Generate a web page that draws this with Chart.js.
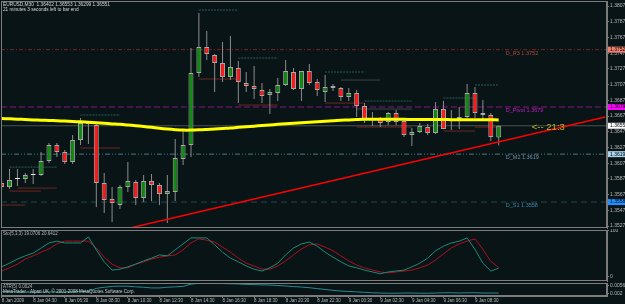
<!DOCTYPE html>
<html>
<head>
<meta charset="utf-8">
<script src="https://cdn.jsdelivr.net/npm/chart.js@4.4.1/dist/chart.umd.min.js"></script>
<style>
  html, body { margin: 0; padding: 0; background: #091416; }
  #wrap { position: relative; width: 625px; height: 304px; overflow: hidden; background: #091416; }
  #wrap canvas { position: absolute; left: 0; }
</style>
</head>
<body>
<div id="wrap">
  <canvas id="main" width="625" height="229" style="top:0px"></canvas>
  <canvas id="sto" width="625" height="53" style="top:229px"></canvas>
  <canvas id="atr" width="625" height="22" style="top:282px"></canvas>
</div>
<script>
// EURUSD M30 candles, 8 Jan 02:30 .. 9 Jan 09:30
const opens  = [1.35822,1.35771,1.35873,1.35873,1.35924,1.35924,1.36102,1.36305,1.36216,1.36089,1.36369,1.36586,1.36560,1.35822,1.35618,1.35542,
                1.35771,1.35835,1.35631,1.35847,1.35796,1.35682,1.35707,1.36127,1.36305,1.37222,1.37553,1.37451,1.37349,1.37171,1.37286,1.37095,
                1.37056,1.37006,1.36942,1.36967,1.37069,1.37235,1.37018,1.37247,1.37107,1.36980,1.37056,1.37031,1.36916,1.36967,1.36802,1.36649,
                1.36637,1.36598,1.36713,1.36611,1.36433,1.36471,1.36535,1.36458,1.36764,1.36611,1.36637,1.36662,1.36967,1.36713,1.36688,1.36402];
const highs  = [1.35860,1.36000,1.36000,1.35949,1.36000,1.36216,1.36331,1.36331,1.36243,1.36433,1.36649,1.36586,1.36586,1.35949,1.35771,1.35796,
                1.36089,1.35860,1.35924,1.35936,1.35822,1.35924,1.36382,1.36509,1.37540,1.37986,1.37756,1.37464,1.37616,1.37693,1.37375,1.37235,
                1.37311,1.37095,1.37018,1.37158,1.37387,1.37286,1.37247,1.37336,1.37146,1.37196,1.37082,1.37044,1.37031,1.37006,1.36840,1.36726,
                1.36662,1.36726,1.36751,1.36649,1.36522,1.36586,1.36573,1.36853,1.36865,1.36751,1.36789,1.37082,1.37044,1.36878,1.36713,1.36553];
const lows   = [1.35733,1.35745,1.35784,1.35822,1.35809,1.35911,1.36076,1.36153,1.36064,1.36064,1.36305,1.36318,1.35516,1.35440,1.35325,1.35491,
                1.35707,1.35542,1.35580,1.35593,1.35542,1.35313,1.35593,1.36051,1.36153,1.37171,1.37387,1.36980,1.37107,1.37133,1.36840,1.36980,
                1.36891,1.36840,1.36701,1.36865,1.37056,1.37006,1.36865,1.37069,1.36929,1.36853,1.36993,1.36865,1.36865,1.36662,1.36586,1.36548,
                1.36535,1.36560,1.36560,1.36407,1.36293,1.36458,1.36433,1.36446,1.36509,1.36497,1.36509,1.36649,1.36649,1.36637,1.36356,1.36299];
const closes = [1.35771,1.35860,1.35873,1.35924,1.35924,1.36102,1.36305,1.36216,1.36089,1.36369,1.36586,1.36573,1.35822,1.35605,1.35567,1.35771,
                1.35847,1.35631,1.35847,1.35796,1.35682,1.35720,1.36140,1.36305,1.37222,1.37553,1.37464,1.37349,1.37171,1.37298,1.37107,1.37056,
                1.37018,1.36929,1.36980,1.37069,1.37247,1.37018,1.37247,1.37095,1.37006,1.37044,1.37031,1.36916,1.36967,1.36802,1.36637,1.36624,
                1.36586,1.36713,1.36598,1.36433,1.36471,1.36548,1.36458,1.36764,1.36509,1.36637,1.36662,1.36967,1.36713,1.36688,1.36407,1.36551];

// yellow moving average, one value per bar
const maValues = [1.36643,1.36639,1.36635,1.36631,1.36626,1.36622,1.36619,1.36615,1.36611,1.36606,1.36601,1.36595,1.36588,1.36582,1.36575,1.36569,
                  1.36561,1.36552,1.36542,1.36531,1.36519,1.36509,1.36501,1.36496,1.36496,1.36499,1.36504,1.36510,1.36517,1.36523,1.36531,1.36538,
                  1.36546,1.36554,1.36561,1.36569,1.36577,1.36584,1.36591,1.36597,1.36603,1.36610,1.36616,1.36621,1.36626,1.36630,1.36633,1.36634,
                  1.36635,1.36634,1.36633,1.36633,1.36631,1.36631,1.36630,1.36630,1.36630,1.36629,1.36629,1.36629,1.36627,1.36627,1.36627,1.36626];

// Sto(5,3,3)
const stochMain   = [22,30,39,46,52,63,74,78,74,74,74,87,59,33,15,17,22,28,35,41,48,46,59,72,85,85,85,70,54,41,33,24,
                     17,13,20,30,48,63,72,76,67,54,43,33,24,20,15,11,7,11,13,15,22,30,41,57,67,74,78,85,60,30,13,19.0706];
const stochSignal = [13,20,28,39,46,54,61,72,78,78,78,78,63,43,28,20,20,28,33,39,43,46,48,59,74,83,80,76,65,54,41,30,
                     24,17,17,24,35,48,61,70,72,65,57,46,35,26,20,15,11,9,11,13,15,20,26,37,50,63,72,78,83,60,34,20.6412];

// ATR(5)
const atrValues = [0.0030,0.0030,0.0029,0.0028,0.0027,0.0028,0.0029,0.0029,0.0028,0.0030,0.0032,0.0031,0.0045,0.0050,0.0054,0.0055,
                   0.0055,0.0052,0.0050,0.0047,0.0047,0.0050,0.0052,0.0054,0.0064,0.0068,0.0068,0.0068,0.0067,0.0066,0.0065,0.0063,
                   0.0062,0.0061,0.0060,0.0058,0.0056,0.0053,0.0051,0.0048,0.0044,0.0040,0.0036,0.0033,0.0031,0.0029,0.0027,0.0025,
                   0.0024,0.0023,0.0023,0.0024,0.0024,0.0023,0.0023,0.0024,0.0025,0.0025,0.0024,0.0025,0.0025,0.0024,0.0024,0.0024];

const priceTicks = [1.35275,1.35475,1.35675,1.35875,1.36075,1.36275,1.36475,1.36675,1.36875,1.37075,1.37275,1.37475,1.37675,1.37875,1.38075];
const stochTicks = [0, 100];
const atrTicks = [0.0056, 0.002];
const timeBars = [0,4,8,12,16,20,24,28,32,36,40,44,48,52,56,60];
const timeLabels = ['8 Jan 2009','8 Jan 04:30','8 Jan 06:30','8 Jan 08:30','8 Jan 10:30','8 Jan 12:30','8 Jan 14:30','8 Jan 16:30',
                    '8 Jan 18:30','8 Jan 20:30','8 Jan 22:30','9 Jan 00:30','9 Jan 02:30','9 Jan 04:30','9 Jan 06:30','9 Jan 08:30'];

// daily pivot levels
const levelNames  = ['D_R3', 'D_Pivot', 'D_M2', 'D_S1'];
const levelPrices = [1.3752, 1.3679, 1.3619, 1.3558];

// red trend line anchors (bar index, price)
const trendBars   = [16.27, 76.5];
const trendPrices = [1.35250, 1.36662];

// short session high / low segments
const sessStart = [0, 1, 1, 2, 10, 10, 25, 25, 30, 30, 41, 41, 43, 45, 45, 46, 56, 56, 60, 60];
const sessEnd   = [3, 5, 7, 7, 15, 15, 30, 30, 35, 35, 46, 46, 48, 52, 52, 52, 60, 60, 63, 63];
const sessPrice = [1.35542,1.35720,1.36025,1.35758,1.36688,1.36268,1.38024,1.37146,1.37413,1.36815,1.37235,1.36840,1.37133,1.36764,1.36535,1.36866,1.36904,1.36484,1.37070,1.36535];
const sessKind  = ['lo','lo','hi','lo','hi','lo','hi','lo','hi','lo','hi','lo','mid','mid','lo','hi','hi','lo','hi','lo'];

const arrowText = '<-- 21:3';
const arrowBar = 67.2;
const arrowPrice = 1.36535;

// ---------- styling ----------
const X_MIN = -0.08, X_MAX = 76.73;
const AXIS_W = 18;
const FRAME = '#7c7c7c';
const TEXT = '#b8b8b8';
const UP = '#128a12', DOWN = '#ff1a1a', DOJI = '#e8e8e8', OUTLINE = '#a8a8a8', WICK = '#8c8c8c';
const levelLineColors = ['#7a2020', '#8a108a', '#4a7888', '#24484e'];
const levelDash = [[4, 2, 1, 2], [6, 3], [5, 2, 1, 2, 1, 2], [6, 4]];
const levelTextColors = ['#b04a3a', '#c020c0', '#7090a8', '#3a8aa8'];
const levelBoxColors = ['#f08070', '#ff00ff', '#a8d4f0', '#1e90ff'];
const sessColors = { hi: '#2c5c5c', lo: '#6e2820', mid: '#3a4448' };

Chart.defaults.font.family = '"Liberation Sans", Arial, sans-serif';

const bars = opens.map((_, i) => i);
const lastClose = closes[closes.length - 1];
const candleColor = i => closes[i] > opens[i] ? UP : (closes[i] < opens[i] ? DOWN : DOJI);

function noPad(s) { s.paddingTop = 0; s.paddingBottom = 0; s.paddingLeft = 0; s.paddingRight = 0; }

function text(ctx, s, x, y, color, size, align) {
  ctx.save();
  ctx.font = size + 'px "Liberation Sans", Arial, sans-serif';
  ctx.fillStyle = color;
  ctx.textAlign = align || 'left';
  ctx.textBaseline = 'middle';
  ctx.fillText(s, x, y);
  ctx.restore();
}

function frame(chart) {
  const a = chart.chartArea, ctx = chart.ctx;
  ctx.save();
  ctx.strokeStyle = FRAME;
  ctx.lineWidth = 1;
  ctx.strokeRect(a.left + 0.5, a.top + 0.5, a.right - a.left - 1, a.bottom - a.top - 1);
  ctx.restore();
}

const xHidden = { type: 'linear', min: X_MIN, max: X_MAX, offset: false, display: false };

function yAxis(min, max, ticks, fmt) {
  return {
    type: 'linear', position: 'right', min: min, max: max,
    afterBuildTicks: s => { s.ticks = ticks.map(v => ({ value: v })); },
    afterFit: s => { s.width = AXIS_W; noPad(s); },
    grid: { drawOnChartArea: false, color: FRAME, tickLength: 2 },
    border: { color: FRAME },
    ticks: { color: TEXT, font: { size: 5 }, padding: 1, callback: fmt }
  };
}

const base = {
  responsive: false, animation: false, devicePixelRatio: 1, events: [],
  plugins: { legend: { display: false }, tooltip: { enabled: false } }
};

function segPoints(kind) {
  const pts = [];
  sessKind.forEach((k, j) => {
    if (k !== kind) return;
    pts.push({ x: sessStart[j], y: sessPrice[j] }, { x: sessEnd[j], y: sessPrice[j] }, { x: sessEnd[j] + 0.01, y: null });
  });
  return pts;
}

// ---------- main price panel ----------
const mainOverlay = {
  id: 'mainOverlay',
  afterDraw(chart) {
    const ctx = chart.ctx, a = chart.chartArea;
    const xs = chart.scales.x, ys = chart.scales.y;
    frame(chart);
    text(ctx, 'EURUSD,M30  1.36402 1.36553 1.36299 1.36551', a.left + 2, a.top + 3.5, '#d8d8d8', 4.8);
    text(ctx, '21 minutes 3 seconds left to bar end', a.left + 2, a.top + 9, '#d8d8d8', 4.7);
    const lx = xs.getPixelForValue(63.9);
    levelNames.forEach((n, j) => {
      text(ctx, n + ' ' + levelPrices[j].toFixed(4), lx, ys.getPixelForValue(levelPrices[j]) + 3.5, levelTextColors[j], 5.5);
    });
    text(ctx, arrowText, xs.getPixelForValue(arrowBar), ys.getPixelForValue(arrowPrice), '#c0b428', 9.5);
    const boxes = levelPrices.map((p, j) => [p, levelBoxColors[j]]).concat([[lastClose, '#ffffff']]);
    boxes.forEach(([p, c]) => {
      const y = ys.getPixelForValue(p);
      ctx.fillStyle = c;
      ctx.fillRect(a.right + 1, y - 3, 625 - a.right - 1, 6);
      text(ctx, p.toFixed(5), a.right + 3, y, '#000000', 5);
    });
  }
};

new Chart(document.getElementById('main'), {
  type: 'bar',
  data: {
    datasets: [
      { type: 'line', data: trendBars.map((b, i) => ({ x: b, y: trendPrices[i] })), borderColor: '#ff0000', borderWidth: 1.5, pointRadius: 0, order: 0 },
      { type: 'line', data: bars.map(i => ({ x: i, y: maValues[i] })), borderColor: '#ffff00', borderWidth: 3, pointRadius: 0, tension: 0.4, order: 1 },
      { type: 'bar', data: bars.map(i => ({ x: i, y: [opens[i], closes[i]] })), grouped: false, barThickness: 5, minBarLength: 1,
        backgroundColor: c => candleColor(c.dataIndex), borderColor: c => closes[c.dataIndex] === opens[c.dataIndex] ? DOJI : OUTLINE,
        borderWidth: 1, borderSkipped: false, inflateAmount: 0, order: 2 },
      { type: 'bar', data: bars.map(i => ({ x: i, y: [lows[i], highs[i]] })), grouped: false, barThickness: 1,
        backgroundColor: WICK, borderWidth: 0, inflateAmount: 0, order: 3 },
      ...['hi', 'lo', 'mid'].map(k => ({ type: 'line', data: segPoints(k), borderColor: sessColors[k], borderWidth: 1,
        borderDash: k === 'hi' ? [2, 1] : [], pointRadius: 0, spanGaps: false, order: 4 })),
      ...levelPrices.map((p, j) => ({ type: 'line', data: [{ x: X_MIN, y: p }, { x: X_MAX, y: p }], borderColor: levelLineColors[j],
        borderDash: levelDash[j], borderWidth: 1, pointRadius: 0, order: 5 })),
      { type: 'line', data: [{ x: X_MIN, y: lastClose }, { x: X_MAX, y: lastClose }], borderColor: '#4a5050', borderWidth: 1, pointRadius: 0, order: 6 }
    ]
  },
  options: Object.assign({}, base, {
    layout: { padding: { top: 1, bottom: 1, left: 1, right: 0 } },
    scales: { x: xHidden, y: yAxis(1.35250, 1.38139, priceTicks, v => v.toFixed(5)) }
  }),
  plugins: [mainOverlay]
});

// ---------- stochastic panel ----------
new Chart(document.getElementById('sto'), {
  type: 'line',
  data: {
    datasets: [
      { data: bars.map(i => ({ x: i, y: stochMain[i] })), borderColor: '#1f8a7a', borderWidth: 1, pointRadius: 0 },
      { data: bars.map(i => ({ x: i, y: stochSignal[i] })), borderColor: '#b01020', borderWidth: 1, pointRadius: 0 }
    ]
  },
  options: Object.assign({}, base, {
    layout: { padding: { top: 1, bottom: 1, left: 1, right: 0 } },
    scales: { x: xHidden, y: yAxis(-8.7, 102.17, stochTicks, v => String(v)) }
  }),
  plugins: [{
    id: 'stoOverlay',
    afterDraw(chart) {
      frame(chart);
      text(chart.ctx, 'Sto(5,3,3) 19.0706 20.6412', chart.chartArea.left + 2, chart.chartArea.top + 4, TEXT, 4.5);
    }
  }]
});

// ---------- ATR panel + time axis ----------
new Chart(document.getElementById('atr'), {
  type: 'line',
  data: {
    datasets: [
      { data: bars.map(i => ({ x: i, y: atrValues[i] })), borderColor: '#2a8a90', borderWidth: 1, pointRadius: 0 }
    ]
  },
  options: Object.assign({}, base, {
    layout: { padding: { top: 1, bottom: 0, left: 1, right: 0 } },
    scales: {
      x: {
        type: 'linear', min: X_MIN, max: X_MAX, offset: false, position: 'bottom',
        afterBuildTicks: s => { s.ticks = timeBars.map(v => ({ value: v })); },
        afterFit: s => { s.height = 8; noPad(s); },
        grid: { drawOnChartArea: false, color: FRAME, tickLength: 2 },
        border: { color: FRAME },
        ticks: { autoSkip: false, maxRotation: 0, align: 'start', padding: 0, color: TEXT, font: { size: 4.5 },
                 callback: (v, i) => timeLabels[i] }
      },
      y: yAxis(0.00104, 0.006935, atrTicks, v => String(v))
    }
  }),
  plugins: [{
    id: 'atrOverlay',
    afterDraw(chart) {
      const a = chart.chartArea;
      frame(chart);
      text(chart.ctx, 'ATR(5) 0.0024', a.left + 2, a.top + 4, TEXT, 4.5);
      text(chart.ctx, 'MetaTrader - Alpari UK, \u00a9 2001-2008 MetaQuotes Software Corp.', a.left + 2, a.top + 9, '#d0d0d0', 4.5);
    }
  }]
});
</script>
</body>
</html>
